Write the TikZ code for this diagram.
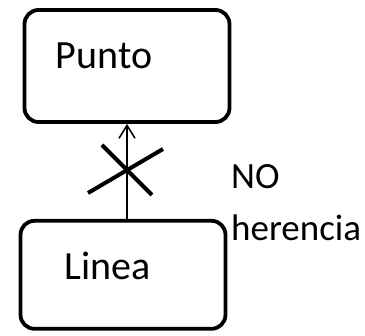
\documentclass[tikz,border=0pt]{standalone}
\usepackage{fontspec}
\setmainfont{Carlito}
\usetikzlibrary{arrows.meta,positioning,calc}

\begin{document}
\begin{tikzpicture}[
    x=1pt, y=-1pt,
    node distance=95pt,
    box/.style={rectangle, draw, line width=3.8pt, rounded corners=14pt, minimum width=205pt, minimum height=112pt},
    lbl/.style={font=\fontsize{40}{48}\selectfont},
    side/.style={font=\fontsize{37}{52}\selectfont},
    arrow/.style={-{Straight Barb[length=13pt, width=16pt, line width=1.5pt]}, line width=1.5pt},
    cross/.style={line width=4pt}
]
    \useasboundingbox (0,0) rectangle (365,336);
    \node[box, label={[lbl, xshift=-23pt, yshift=10pt]center:Punto}] (punto) at (127,66) {};
    \node[box, below=of punto, xshift=-4pt, minimum height=108pt,
          label={[lbl, xshift=-15pt, yshift=9pt]center:Linea}] (linea) {};
    \node[side, anchor=base west, align=left, inner sep=0pt] (noher) at (231,241) {NO\\herencia};

    \draw[arrow] (linea.north -| punto.south) -- (punto.south);
    % la cruz sobre la flecha
    \coordinate (mid) at (126,170);
    \draw[cross] ($(mid)+(-24,-25)$) -- ($(mid)+(26,25)$);
    \draw[cross] ($(mid)+(-38,23)$) -- ($(mid)+(37,-21)$);
\end{tikzpicture}
\end{document}
